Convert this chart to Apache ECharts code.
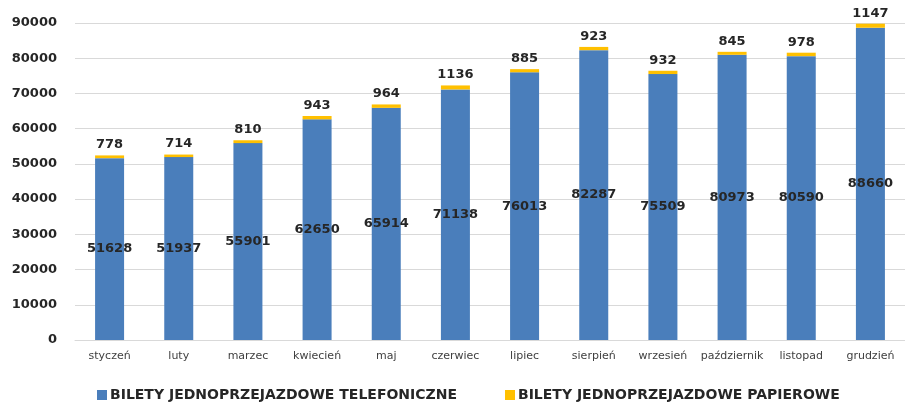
<!DOCTYPE html>
<html><head><meta charset="utf-8">
<script src="https://cdn.jsdelivr.net/npm/echarts@6/dist/echarts.min.js"></script>
<style>html,body{margin:0;padding:0;background:#fff}#c{width:905px;height:403px}</style>
</head><body><div id="c"></div>
<script>
const months = ['styczeń','luty','marzec','kwiecień','maj','czerwiec','lipiec','sierpień','wrzesień','październik','listopad','grudzień'];
const phoneTickets = [51628, 51937, 55901, 62650, 65914, 71138, 76013, 82287, 75509, 80973, 80590, 88660];
const paperTickets = [778, 714, 810, 943, 964, 1136, 885, 923, 932, 845, 978, 1147];
const seriesNames = ['BILETY JEDNOPRZEJAZDOWE TELEFONICZNE', 'BILETY JEDNOPRZEJAZDOWE PAPIEROWE'];

const chart = echarts.init(document.getElementById('c'), null, {renderer: 'canvas'});
const lblFont = {fontFamily: 'DejaVu Sans', fontWeight: 'bold', fontSize: 13, color: '#262626'};
chart.setOption({
  animation: false,
  backgroundColor: '#fff',
  grid: {left: 75, top: 23, width: 840, bottom: 63, containLabel: false},
  legend: {
    left: 92, top: 383, itemWidth: 10, itemHeight: 10, itemGap: 48,
    icon: 'rect',
    textStyle: {fontFamily: 'DejaVu Sans', fontWeight: 'bold', fontSize: 14, color: '#262626', padding: [0,0,0,-2]},
    data: seriesNames
  },
  xAxis: {
    type: 'category', data: months,
    axisLine: {lineStyle: {color: '#d9d9d9', width: 1}},
    axisTick: {show: false},
    axisLabel: {fontFamily: 'DejaVu Sans', fontSize: 11, color: '#404040', margin: 11, interval: 0}
  },
  yAxis: {
    type: 'value', min: 0, max: 90000, interval: 10000,
    axisLine: {show: false}, axisTick: {show: false},
    splitLine: {lineStyle: {color: '#d9d9d9', width: 1}},
    axisLabel: Object.assign({margin: 18, formatter: v => String(v)}, lblFont)
  },
  series: [
    {
      name: seriesNames[0], type: 'bar', stack: 'a', barWidth: 29,
      data: phoneTickets,
      itemStyle: {color: '#4a7ebb'},
      label: Object.assign({show: true, position: 'inside'}, lblFont)
    },
    {
      name: seriesNames[1], type: 'bar', stack: 'a', barWidth: 29,
      data: paperTickets,
      itemStyle: {color: '#ffc000'},
      label: Object.assign({show: true, position: 'top', distance: 4}, lblFont)
    }
  ]
});
</script></body></html>
